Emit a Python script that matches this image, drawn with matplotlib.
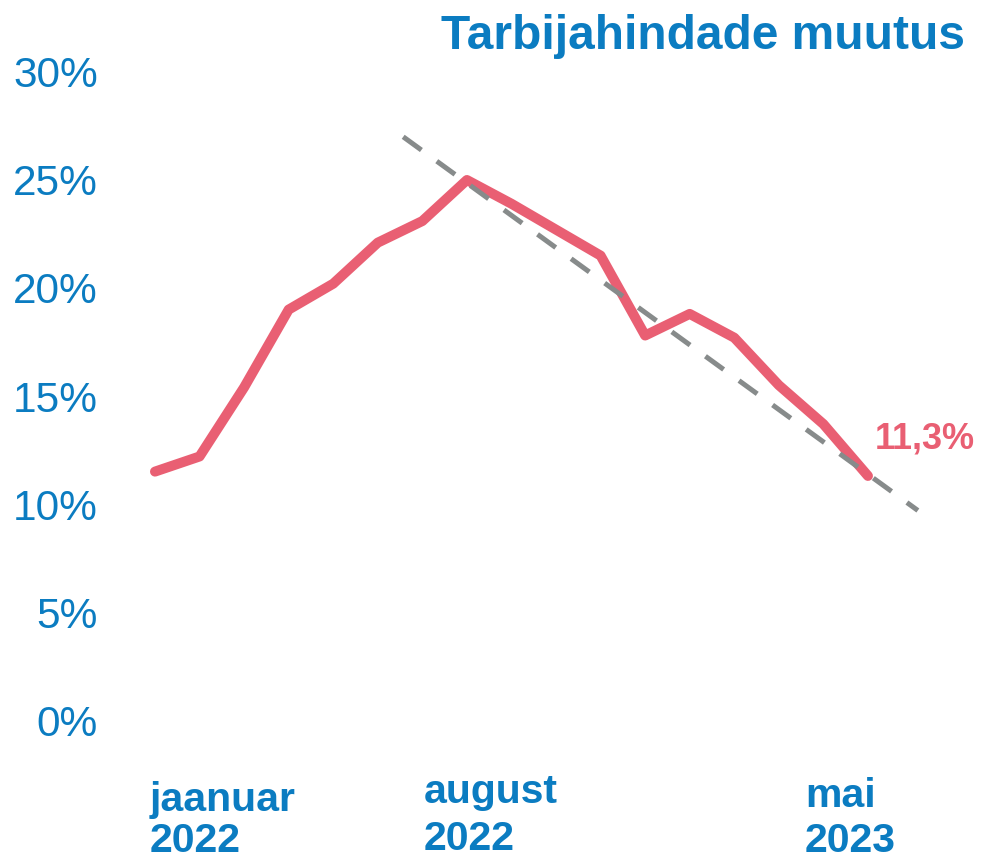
import matplotlib.pyplot as plt

plt.rcParams['font.family'] = ['Liberation Sans', 'DejaVu Sans']

blue = '#0B7CC1'
red = '#E95F73'
gray = '#878B8B'

# monthly index: 0 = jaanuar 2022 ... 16 = mai 2023
months = list(range(17))
inflation = [11.5, 12.2, 15.4, 19.0, 20.2, 22.1, 23.1, 25.0, 23.9, 22.7,
             21.5, 17.8, 18.8, 17.7, 15.5, 13.7, 11.3]

# dashed trend line endpoints (month index, %)
trend_x = [5.57, 17.12]
trend_y = [27.0, 9.7]

yticks = [0, 5, 10, 15, 20, 25, 30]
ytick_labels = ['0%', '5%', '10%', '15%', '20%', '25%', '30%']

# x labels: month/year text pairs
xlabel_top = ['jaanuar', 'august', 'mai']
xlabel_bottom = ['2022', '2022', '2023']

W, H = 983, 863
fig = plt.figure(figsize=(W / 100, H / 100), dpi=100)
ax = fig.add_axes([130 / W, (H - 720) / H, 810 / W, 648 / H])

ax.plot(months, inflation, color=red, lw=7.2, solid_capstyle='round',
        solid_joinstyle='round', clip_on=False, zorder=2)
ax.plot(trend_x, trend_y, color=gray, lw=3.6, dashes=(4.5, 3.8),
        clip_on=False, zorder=3)

ax.annotate('11,3%', xy=(months[-1], inflation[-1]), xytext=(5, 20),
            textcoords='offset points', color=red, fontsize=26,
            fontweight='bold', ha='left', va='baseline')

ax.set_xlim(-0.561, 17.617)
ax.set_ylim(0, 30)
ax.set_yticks(yticks)
ax.set_yticklabels(ytick_labels)
ax.tick_params(axis='y', length=0, pad=23, labelsize=30.5, labelcolor=blue)
ax.set_xticks([])
for s in ax.spines.values():
    s.set_visible(False)

# text box anchors (x in months, baselines in % units below the axis)
label_x = [-0.11, 6.03, 14.59]
label_y1 = [-4.22, -3.82, -4.03]
label_y2 = [-6.13, -6.02, -6.13]
for i in range(3):
    ax.text(label_x[i], label_y1[i], xlabel_top[i], color=blue,
            fontsize=29.5, fontweight='bold', ha='left', va='baseline',
            clip_on=False)
    ax.text(label_x[i], label_y2[i], xlabel_bottom[i], color=blue,
            fontsize=29.5, fontweight='bold', ha='left', va='baseline',
            clip_on=False)

fig.text(965 / W, 1 - 49 / H, 'Tarbijahindade muutus', color=blue,
         fontsize=34.5, fontweight='bold', ha='right', va='baseline')

fig.savefig('out.png', dpi=100)
